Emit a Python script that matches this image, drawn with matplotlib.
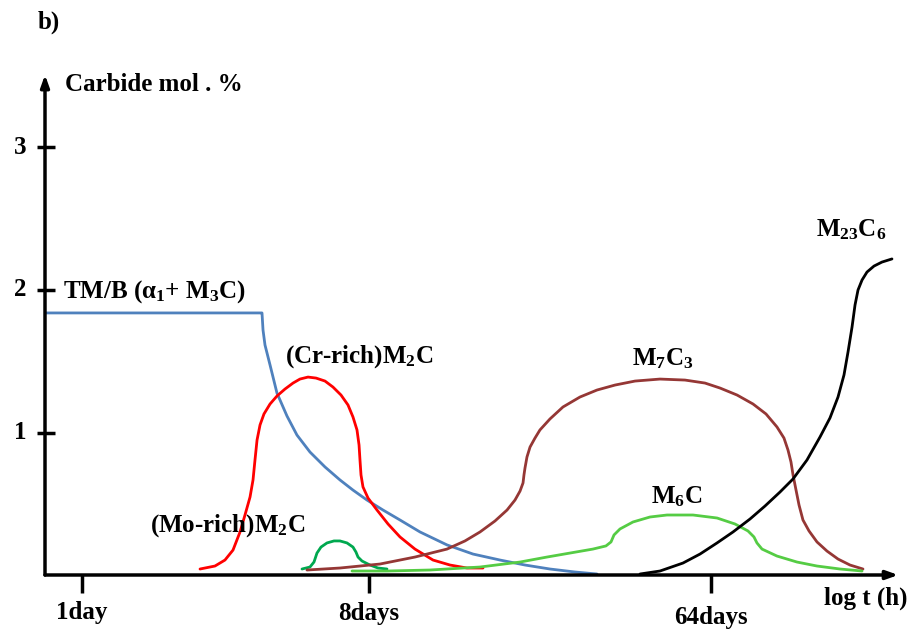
import matplotlib
matplotlib.use("Agg")
import matplotlib.pyplot as plt

plt.rcParams['font.family'] = ['Liberation Serif', 'DejaVu Serif']
plt.rcParams['font.weight'] = 'bold'
plt.rcParams['mathtext.fontset'] = 'custom'
plt.rcParams['mathtext.rm'] = 'Liberation Serif:bold'
plt.rcParams['mathtext.it'] = 'Liberation Serif:bold'
plt.rcParams['mathtext.bf'] = 'Liberation Serif:bold'
plt.rcParams['mathtext.default'] = 'rm'

# x is a schematic log-time coordinate, y is carbide mol. %
tm_x = [0.0, 2.530, 2.538, 2.550, 2.573, 2.632, 2.713, 2.830, 2.947, 3.099, 3.275, 3.450, 3.602,
        3.766, 3.953, 4.152, 4.386, 4.702, 5.006, 5.322, 5.614, 5.906, 6.199, 6.456]
tm_y = [1.839, 1.839, 1.839, 1.719, 1.614, 1.474, 1.277, 1.116, 0.982, 0.863, 0.758, 0.667, 0.596,
        0.526, 0.456, 0.386, 0.302, 0.211, 0.147, 0.105, 0.070, 0.042, 0.021, 0.007]

cr_x = [1.813, 1.988, 2.105, 2.199, 2.281, 2.339, 2.398, 2.433, 2.456, 2.480, 2.515, 2.561, 2.632,
        2.713, 2.807, 2.901, 2.982, 3.076, 3.170, 3.275, 3.368, 3.462, 3.544, 3.602, 3.649, 3.673,
        3.684, 3.696, 3.719, 3.778, 3.883, 4.012, 4.152, 4.327, 4.538, 4.737, 4.936, 5.123]
cr_y = [0.042, 0.063, 0.105, 0.175, 0.302, 0.421, 0.547, 0.667, 0.807, 0.947, 1.053, 1.130, 1.200,
        1.256, 1.305, 1.347, 1.375, 1.389, 1.382, 1.361, 1.319, 1.263, 1.193, 1.109, 1.018, 0.912,
        0.807, 0.702, 0.618, 0.540, 0.456, 0.358, 0.267, 0.182, 0.105, 0.070, 0.049, 0.049]

mo_x = [3.006, 3.099, 3.146, 3.181, 3.228, 3.298, 3.380, 3.450, 3.532, 3.602, 3.637, 3.661, 3.708,
        3.801, 3.895, 4.000]
mo_y = [0.042, 0.056, 0.091, 0.154, 0.196, 0.225, 0.239, 0.239, 0.225, 0.196, 0.161, 0.126, 0.098,
        0.070, 0.049, 0.042]

m7_x = [3.064, 3.450, 3.918, 4.327, 4.702, 4.912, 5.088, 5.263, 5.404, 5.497, 5.556, 5.591, 5.602,
        5.614, 5.637, 5.673, 5.731, 5.789, 5.906, 6.058, 6.257, 6.456, 6.667, 6.901, 7.193, 7.485,
        7.719, 7.895, 8.094, 8.281, 8.433, 8.561, 8.643, 8.690, 8.725, 8.749, 8.784, 8.819, 8.865,
        8.936, 9.029, 9.146, 9.275, 9.415, 9.567]
m7_y = [0.035, 0.049, 0.077, 0.126, 0.182, 0.239, 0.302, 0.379, 0.456, 0.526, 0.589, 0.646, 0.702,
        0.751, 0.828, 0.898, 0.961, 1.018, 1.095, 1.179, 1.249, 1.298, 1.333, 1.361, 1.375, 1.368,
        1.347, 1.312, 1.263, 1.200, 1.130, 1.039, 0.961, 0.877, 0.793, 0.702, 0.596, 0.491, 0.386,
        0.309, 0.232, 0.168, 0.112, 0.070, 0.042]

m6_x = [3.591, 4.000, 4.503, 5.088, 5.556, 5.871, 6.140, 6.409, 6.561, 6.620, 6.655, 6.725, 6.877,
        7.076, 7.275, 7.579, 7.860, 8.070, 8.222, 8.292, 8.327, 8.386, 8.561, 8.795, 9.029, 9.298, 9.556]
m6_y = [0.028, 0.028, 0.035, 0.056, 0.091, 0.126, 0.154, 0.182, 0.204, 0.232, 0.281, 0.323, 0.372,
        0.407, 0.421, 0.421, 0.400, 0.358, 0.309, 0.267, 0.225, 0.182, 0.133, 0.091, 0.063, 0.042, 0.028]

m23_x = [6.959, 7.193, 7.462, 7.661, 7.860, 8.047, 8.246, 8.421, 8.596, 8.749, 8.912, 9.064, 9.181,
         9.275, 9.345, 9.392, 9.439, 9.474, 9.509, 9.556, 9.614, 9.696, 9.789, 9.906]
m23_y = [0.007, 0.028, 0.084, 0.147, 0.225, 0.302, 0.393, 0.484, 0.582, 0.674, 0.807, 0.968, 1.102,
         1.249, 1.404, 1.565, 1.740, 1.895, 2.000, 2.070, 2.126, 2.168, 2.196, 2.218]

y_ticks = [1, 2, 3]
x_tick_pos = [0.43, 3.79, 7.79]
x_tick_labels = ["1day", "8days", "64days"]

fig = plt.figure(figsize=(9.13, 6.30), dpi=100)
ax = fig.add_axes([45 / 913, 55 / 630, 855 / 913, 500 / 630])
ax.set_xlim(0, 10.0)
ax.set_ylim(0, 500 / 142.5)
ax.axis('off')
ax.patch.set_alpha(0)

lw = 2.0
style = dict(lw=lw, solid_joinstyle='round', solid_capstyle='round')
ax.plot(tm_x, tm_y, color='#4F81BD', **style)
ax.plot(cr_x, cr_y, color='#FF0000', **style)
ax.plot(mo_x, mo_y, color='#00A84F', **style)
ax.plot(m7_x, m7_y, color='#953735', **style)
ax.plot(m6_x, m6_y, color='#55CC44', **style)
ax.plot(m23_x, m23_y, color='black', **style)

# axes with arrow heads
arrow = dict(arrowstyle='-|>,head_length=0.7,head_width=0.25', lw=2.5,
             color='black', shrinkA=0, shrinkB=0)
ax.annotate('', xy=(0, 3.51), xytext=(0, 0), arrowprops=arrow, annotation_clip=False)
ax.annotate('', xy=(9.98, 0), xytext=(0, 0), arrowprops=arrow, annotation_clip=False)

fs = 18
for v in y_ticks:
    ax.plot([-0.095, 0.115], [v, v], color='black', lw=2.5, clip_on=False, solid_capstyle='butt')
    ax.text(-0.22, v, str(v), ha='right', va='center', fontsize=fs, fontweight='bold')
label_y = [-0.26, -0.27, -0.295]
for xp, lab, ly in zip(x_tick_pos, x_tick_labels, label_y):
    ax.plot([xp, xp], [0, -0.125], color='black', lw=2.5, clip_on=False, solid_capstyle='butt')
    ax.text(xp, ly, lab, ha='center', va='center', fontsize=fs, fontweight='bold')

ax.text(9.60, -0.165, "log t (h)", ha='center', va='center', fontsize=fs, fontweight='bold')
fig.text(38 / 913, 1 - 22 / 630, "b)", ha='left', va='center', fontsize=fs, fontweight='bold')
ax.text(0.234, 3.44, "Carbide mol . %", ha='left', va='center', fontsize=fs, fontweight='bold')
ax.text(0.21, 1.99, "TM/B (α$_1$+ M$_3$C)", ha='left', va='center', fontsize=fs, fontweight='bold')
ax.text(2.81, 1.53, "(Cr-rich)M$_2$C", ha='left', va='center', fontsize=fs, fontweight='bold')
ax.text(1.23, 0.35, "(Mo-rich)M$_2$C", ha='left', va='center', fontsize=fs, fontweight='bold')
ax.text(7.22, 1.52, "M$_7$C$_3$", ha='center', va='center', fontsize=fs, fontweight='bold')
ax.text(7.39, 0.55, "M$_6$C", ha='center', va='center', fontsize=fs, fontweight='bold')
ax.text(9.43, 2.42, "M$_{23}$C$_6$", ha='center', va='center', fontsize=fs, fontweight='bold')

fig.savefig("out.png", dpi=100)
